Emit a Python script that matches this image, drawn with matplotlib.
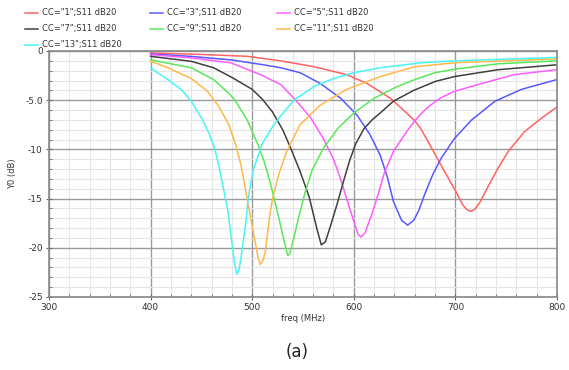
import matplotlib
matplotlib.use("Agg")
import matplotlib.pyplot as plt
from matplotlib.lines import Line2D
from matplotlib.ticker import MultipleLocator

labels = ['CC="1";S11 dB20', 'CC="3";S11 dB20', 'CC="5";S11 dB20',
          'CC="7";S11 dB20', 'CC="9";S11 dB20', 'CC="11";S11 dB20',
          'CC="13";S11 dB20']
colors = ['#ff6262', '#5858ff', '#ff5cff', '#404040', '#58e858', '#ffb84a', '#48f4f4']

f1 = [400, 450, 495, 528, 561, 593, 613, 636, 652, 660, 666, 673, 680, 688, 694, 700, 707,
      711, 715, 719, 724, 732, 742, 752, 768, 785, 800]
y1 = [-0.2, -0.35, -0.54, -1.0, -1.6, -2.4, -3.3, -4.8, -6.3, -7.1, -7.9, -9.2, -10.5, -12.0,
      -13.1, -14.2, -15.6, -16.1, -16.3, -16.1, -15.4, -13.8, -11.9, -10.2, -8.2, -6.8, -5.7]

f3 = [400, 440, 479, 511, 528, 547, 567, 587, 603, 616, 626, 633, 639, 647, 653, 659, 664,
      670, 678, 686, 699, 716, 739, 765, 800]
y3 = [-0.3, -0.55, -0.9, -1.4, -1.7, -2.2, -3.3, -4.8, -6.5, -8.5, -10.6, -12.8, -15.3, -17.2,
      -17.7, -17.2, -16.2, -14.5, -12.5, -10.9, -8.9, -7.0, -5.1, -3.9, -2.9]

f5 = [400, 440, 479, 508, 528, 541, 557, 570, 580, 585, 590, 595, 600, 604, 607, 611, 618,
      625, 630, 639, 652, 660, 666, 673, 685, 699, 726, 758, 800]
y5 = [-0.37, -0.7, -1.2, -2.4, -3.4, -4.8, -6.7, -8.9, -11.0, -12.4, -14.0, -15.7, -17.3,
      -18.6, -18.9, -18.5, -16.5, -14.2, -12.4, -10.2, -8.2, -7.1, -6.4, -5.7, -4.8, -4.1,
      -3.3, -2.4, -1.9]

f7 = [400, 440, 462, 482, 500, 510, 520, 530, 538, 547, 556, 564, 568, 572, 577, 584, 590,
      596, 602, 610, 618, 626, 639, 659, 680, 699, 742, 800]
y7 = [-0.54, -1.05, -1.7, -2.8, -3.9, -4.9, -6.2, -8.0, -9.9, -12.2, -14.8, -18.2, -19.7,
      -19.4, -17.8, -15.4, -13.2, -11.1, -9.4, -7.9, -7.0, -6.3, -5.1, -4.0, -3.1, -2.6,
      -1.9, -1.4]

f9 = [400, 440, 462, 477, 483, 495, 506, 512, 518, 524, 530, 535, 537, 540, 546, 552, 559,
      570, 584, 600, 620, 643, 660, 680, 699, 742, 800]
y9 = [-0.9, -1.7, -2.9, -4.3, -5.0, -7.0, -9.6, -11.3, -13.5, -16.0, -18.7, -20.8, -20.6,
      -19.4, -16.8, -14.4, -12.1, -9.9, -7.9, -6.3, -4.8, -3.6, -2.9, -2.2, -1.85, -1.3, -1.0]

f11 = [400, 417, 440, 456, 467, 477, 484, 489, 495, 502, 506, 508, 511, 513, 517, 520, 526,
       534, 547, 567, 593, 626, 660, 699, 800]
y11 = [-1.05, -1.7, -2.8, -4.1, -5.6, -7.5, -9.6, -11.6, -15.0, -18.9, -21.1, -21.7, -21.2,
       -20.3, -16.9, -15.0, -12.6, -10.2, -7.5, -5.5, -3.9, -2.6, -1.6, -1.2, -0.8]

f13 = [400, 417, 430, 440, 450, 458, 463, 467, 471, 476, 481, 483, 485, 487, 489, 494, 496,
       501, 510, 520, 528, 541, 561, 580, 600, 626, 666, 699, 800]
y13 = [-1.73, -2.9, -3.9, -5.1, -6.8, -8.5, -9.9, -11.6, -13.6, -16.2, -20.3, -21.8, -22.7,
       -22.2, -21.0, -17.2, -15.0, -12.1, -9.4, -7.7, -6.6, -5.0, -3.6, -2.8, -2.2, -1.7,
       -1.2, -1.0, -0.65]

freqs = [f1, f3, f5, f7, f9, f11, f13]
vals = [y1, y3, y5, y7, y9, y11, y13]

xticks = [300, 400, 500, 600, 700, 800]
yticks = [0, -5, -10, -15, -20, -25]
yticklabels = ['0', '-5.0', '-10', '-15', '-20', '-25']

W, H = 569, 370
fig = plt.figure(figsize=(W / 100, H / 100), dpi=100)
ax = fig.add_axes([49 / W, (H - 297) / H, 508 / W, 246 / H])

for f, v, c in zip(freqs, vals, colors):
    ax.plot(f, v, color=c, lw=1.1, solid_joinstyle='round')

ax.set_xlim(300, 800)
ax.set_ylim(-25, 0)
ax.set_xticks(xticks)
ax.set_yticks(yticks)
ax.set_yticklabels(yticklabels)
ax.xaxis.set_minor_locator(MultipleLocator(20))
ax.yaxis.set_minor_locator(MultipleLocator(1))
ax.grid(which='major', color='#9a9a9a', lw=1.0)
ax.grid(which='minor', color='#e4e4e4', lw=0.8)
ax.set_axisbelow(True)
for s in ax.spines.values():
    s.set_color('#888888')
    s.set_linewidth(1.2)
ax.tick_params(which='major', direction='inout', length=5, color='#666666',
               labelsize=6.5, labelcolor='#333333', pad=2)
ax.tick_params(which='minor', direction='in', length=2.5, color='#666666')
ax.set_xlabel('freq (MHz)', fontsize=6, color='#333333', labelpad=1)
ax.set_ylabel('Y0 (dB)', fontsize=6, color='#333333', labelpad=6)

# legend, row-major in three columns
colx = [25, 150, 277]
rowy = [13, 29, 45]
for i, (lab, c) in enumerate(zip(labels, colors)):
    r, k = divmod(i, 3)
    x0 = colx[k]
    yy = rowy[r]
    fig.add_artist(Line2D([x0 / W, (x0 + 13) / W], [1 - yy / H, 1 - yy / H],
                          color=c, lw=1.1, transform=fig.transFigure))
    fig.text((x0 + 17) / W, 1 - yy / H, lab, fontsize=6, color='#333333',
             va='center', ha='left')

fig.text(297 / W, 1 - 352 / H, '(a)', fontsize=12, color='#222222',
         ha='center', va='center')

fig.savefig('out.png', dpi=100, facecolor='white')
